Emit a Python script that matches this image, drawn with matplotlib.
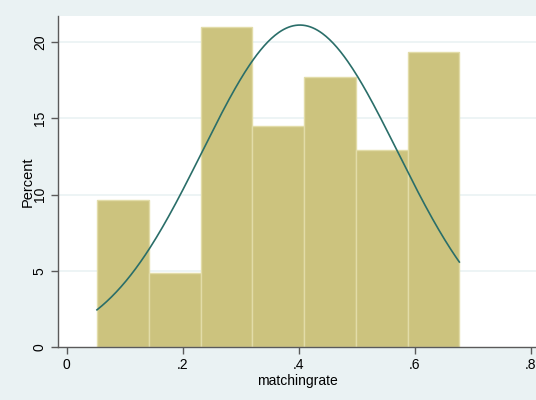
""" Histogram of matchingrate with a normal density overlay (Stata style). """

import numpy as np
import matplotlib.pyplot as plt

plt.rcParams['font.family'] = ['Liberation Sans', 'DejaVu Sans']

# bin edges and percent heights
bin_edges = [0.0522, 0.1414, 0.2307, 0.3199, 0.4091, 0.4984, 0.5876, 0.6769]
percents = [9.68, 4.84, 20.97, 14.52, 17.74, 12.90, 19.35]

# normal curve parameters (mean / sd of matchingrate)
mean_rate = 0.402
sd_rate = 0.1686

x_ticks = [0, 0.2, 0.4, 0.6, 0.8]
x_labels = ['0', '.2', '.4', '.6', '.8']
y_ticks = [0, 5, 10, 15, 20]
y_labels = ['0', '5', '10', '15', '20']

BG = '#EAF2F3'
BAR = '#CCC37E'
BAR_EDGE = '#E2DCA8'
LINE = '#2A6E69'
AXIS = '#5A5A5A'

fig = plt.figure(figsize=(5.36, 4.0), dpi=100, facecolor=BG)
ax = fig.add_axes([58 / 536, 1 - 347.3 / 400, 1 - 58 / 536, (347.3 - 16) / 400])
ax.set_facecolor('white')

for y in y_ticks[1:]:
    ax.axhline(y, color=BG, linewidth=1.2, zorder=0)

widths = np.diff(bin_edges)
ax.bar(bin_edges[:-1], percents, width=widths, align='edge',
       color=BAR, edgecolor=BAR_EDGE, linewidth=1.0, zorder=2)

# normal density scaled to percent per bin
bw = widths.mean()
xs = np.linspace(bin_edges[0], bin_edges[-1], 300)
dens = np.exp(-0.5 * ((xs - mean_rate) / sd_rate) ** 2) / (sd_rate * np.sqrt(2 * np.pi))
ax.plot(xs, dens * bw * 100, color=LINE, linewidth=1.2, zorder=3)

ax.set_xlim(-0.015, 0.8091)
ax.set_ylim(0, 21.71)
ax.set_xticks(x_ticks)
ax.set_xticklabels(x_labels)
ax.set_yticks(y_ticks)
ax.set_yticklabels(y_labels, rotation=90, va='center')

for side in ['top', 'right']:
    ax.spines[side].set_visible(False)
for side in ['left', 'bottom']:
    ax.spines[side].set_color(AXIS)
    ax.spines[side].set_linewidth(1.0)
ax.tick_params(axis='both', direction='out', length=5, width=1.0, color=AXIS,
               labelsize=10, labelcolor='black', pad=3)

ax.set_xlabel('matchingrate', fontsize=10, labelpad=1)
ax.set_ylabel('Percent', fontsize=10.5, labelpad=-1)

plt.savefig('out.png', dpi=100, facecolor=BG)
